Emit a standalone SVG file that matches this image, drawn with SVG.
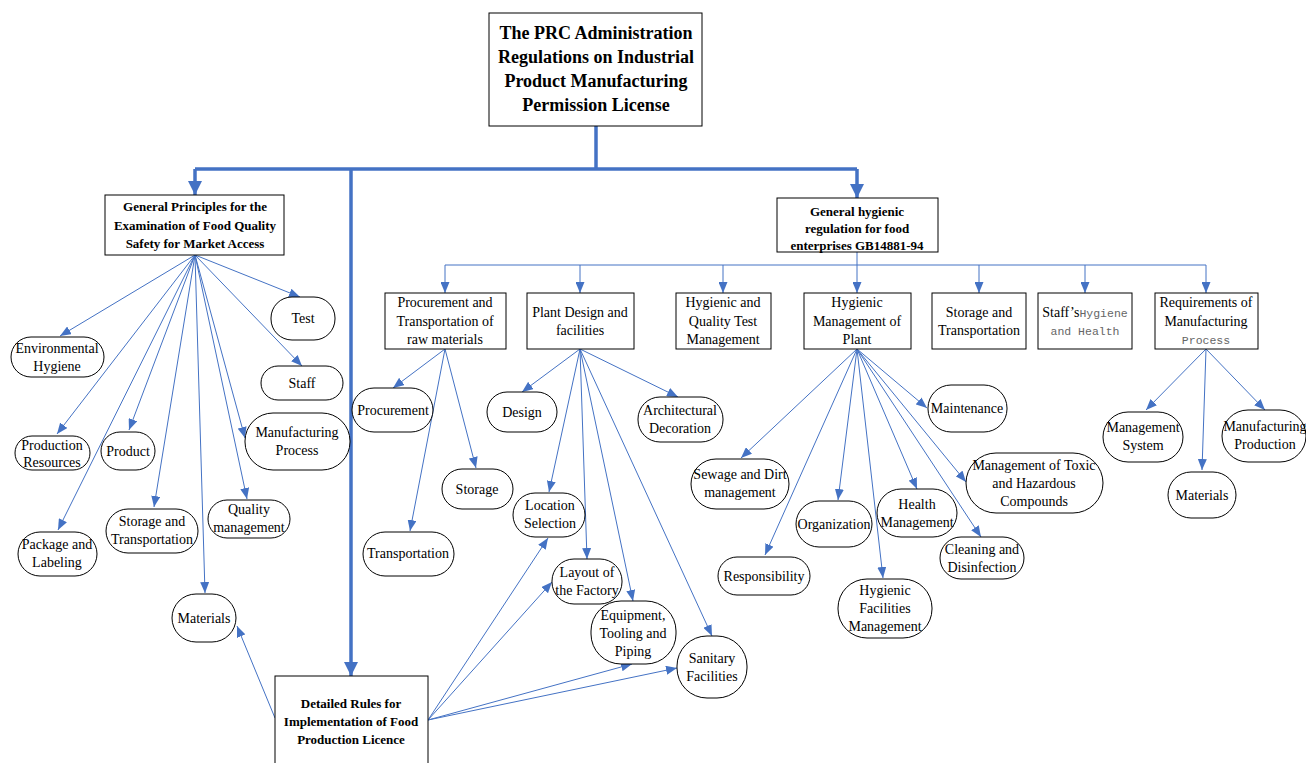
<svg xmlns="http://www.w3.org/2000/svg" width="1306" height="763" viewBox="0 0 1306 763">
<style>
.box{fill:#fff;stroke:#000;stroke-width:1}
.pill{fill:#fff;stroke:#000;stroke-width:1}
.t{font-family:"Liberation Serif","Times New Roman",serif;font-size:14px;fill:#000;text-anchor:middle}
.b{font-family:"Liberation Serif","Times New Roman",serif;font-weight:bold;font-size:13px;fill:#000;text-anchor:middle}
.bt{font-family:"Liberation Serif","Times New Roman",serif;font-weight:bold;font-size:18px;fill:#000;text-anchor:middle}
.m{font-family:"Liberation Mono","Courier New",monospace;font-size:11.5px;fill:#666}
.c{fill:none;stroke:#4472C4;stroke-width:1}
.k{fill:none;stroke:#4472C4;stroke-width:3.5}
</style>
<defs>
<marker id="a" markerUnits="userSpaceOnUse" markerWidth="11" markerHeight="9" refX="11" refY="4.5" orient="auto"><path d="M0,0 L11,4.5 L0,9 z" fill="#4472C4"/></marker>
<marker id="h" markerUnits="userSpaceOnUse" markerWidth="14" markerHeight="14" refX="14" refY="7" orient="auto"><path d="M0,0 L14,7 L0,14 z" fill="#4472C4"/></marker>
</defs>
<rect width="1306" height="763" fill="#fff"/>
<g id="connectors">
<path class="k" d="M596,126 V169"/>
<path class="k" d="M195,169 H857"/>
<path class="k" d="M195,169 V195" marker-end="url(#h)"/>
<path class="k" d="M857,169 V198" marker-end="url(#h)"/>
<path class="k" d="M351,169 V676" marker-end="url(#h)"/>
<path class="c" d="M195,255 L60,336" marker-end="url(#a)"/>
<path class="c" d="M195,255 L57,434" marker-end="url(#a)"/>
<path class="c" d="M195,255 L129,430" marker-end="url(#a)"/>
<path class="c" d="M195,255 L58,530" marker-end="url(#a)"/>
<path class="c" d="M195,255 L154,507" marker-end="url(#a)"/>
<path class="c" d="M195,255 L205,593" marker-end="url(#a)"/>
<path class="c" d="M195,255 L247,499" marker-end="url(#a)"/>
<path class="c" d="M195,255 L245,438" marker-end="url(#a)"/>
<path class="c" d="M195,255 L302,366" marker-end="url(#a)"/>
<path class="c" d="M195,255 L300,297" marker-end="url(#a)"/>
<path class="c" d="M275,718 L237,626" marker-end="url(#a)"/>
<path class="c" d="M428,720 L548,538" marker-end="url(#a)"/>
<path class="c" d="M428,720 L552,582" marker-end="url(#a)"/>
<path class="c" d="M428,720 L632,664" marker-end="url(#a)"/>
<path class="c" d="M428,720 L677,668" marker-end="url(#a)"/>
<path class="c" d="M857,252 V265"/>
<path class="c" d="M445,265 H1206"/>
<path class="c" d="M445,265 V293" marker-end="url(#a)"/>
<path class="c" d="M580,265 V293" marker-end="url(#a)"/>
<path class="c" d="M723,265 V293" marker-end="url(#a)"/>
<path class="c" d="M857,265 V293" marker-end="url(#a)"/>
<path class="c" d="M979,265 V293" marker-end="url(#a)"/>
<path class="c" d="M1085,265 V293" marker-end="url(#a)"/>
<path class="c" d="M1206,265 V293" marker-end="url(#a)"/>
<path class="c" d="M445,349 L393,388" marker-end="url(#a)"/>
<path class="c" d="M445,349 L476,468" marker-end="url(#a)"/>
<path class="c" d="M445,349 L410,531" marker-end="url(#a)"/>
<path class="c" d="M580,349 L522,392" marker-end="url(#a)"/>
<path class="c" d="M580,349 L678,397" marker-end="url(#a)"/>
<path class="c" d="M580,349 L549,492" marker-end="url(#a)"/>
<path class="c" d="M580,349 L587,559" marker-end="url(#a)"/>
<path class="c" d="M580,349 L633,601" marker-end="url(#a)"/>
<path class="c" d="M580,349 L712,636" marker-end="url(#a)"/>
<path class="c" d="M857,349 L927,408" marker-end="url(#a)"/>
<path class="c" d="M857,349 L741,458" marker-end="url(#a)"/>
<path class="c" d="M857,349 L838,500" marker-end="url(#a)"/>
<path class="c" d="M857,349 L917,489" marker-end="url(#a)"/>
<path class="c" d="M857,349 L966,482" marker-end="url(#a)"/>
<path class="c" d="M857,349 L765,555" marker-end="url(#a)"/>
<path class="c" d="M857,349 L883,578" marker-end="url(#a)"/>
<path class="c" d="M857,349 L981,537" marker-end="url(#a)"/>
<path class="c" d="M1206,349 L1146,410" marker-end="url(#a)"/>
<path class="c" d="M1206,349 L1202,470" marker-end="url(#a)"/>
<path class="c" d="M1206,349 L1265,410" marker-end="url(#a)"/>
</g>
<g id="top"><rect class="box" x="489" y="13" width="213" height="113"/>
<text class="bt" x="596" y="39">The PRC Administration</text><text class="bt" x="596" y="63">Regulations on Industrial</text><text class="bt" x="596" y="87">Product Manufacturing</text><text class="bt" x="596" y="111">Permission License</text></g>
<g id="general-principles"><rect class="box" x="105" y="195" width="179" height="60"/>
<text class="b" x="195" y="211">General Principles for the</text><text class="b" x="195" y="230">Examination of Food Quality</text><text class="b" x="195" y="248">Safety for Market Access</text></g>
<g id="general-hygienic"><rect class="box" x="777" y="198" width="161" height="54"/>
<text class="b" x="857" y="216">General hygienic</text><text class="b" x="857" y="233">regulation for food</text><text class="b" x="857" y="250">enterprises  GB14881-94</text></g>
<g id="detailed-rules"><rect class="box" x="275" y="676" width="153" height="92"/>
<text class="b" x="351" y="708">Detailed Rules for</text><text class="b" x="351" y="726">Implementation of Food</text><text class="b" x="351" y="744">Production Licence</text></g>
<g id="env-hygiene"><rect class="pill" x="11" y="337" width="93" height="40" rx="20"/><text class="t" x="57" y="353">Environmental</text><text class="t" x="57" y="371">Hygiene</text></g>
<g id="test"><rect class="pill" x="271" y="297" width="64" height="43" rx="21"/><text class="t" x="303" y="323">Test</text></g>
<g id="staff"><rect class="pill" x="261" y="366" width="82" height="34" rx="17"/><text class="t" x="302" y="388">Staff</text></g>
<g id="manufacturing-process"><rect class="pill" x="245" y="413" width="105" height="57" rx="28"/><text class="t" x="297" y="437">Manufacturing</text><text class="t" x="297" y="455">Process</text></g>
<g id="production-resources"><rect class="pill" x="15" y="436" width="75" height="34" rx="17"/><text class="t" x="52" y="450">Production</text><text class="t" x="52" y="467">Resources</text></g>
<g id="product"><rect class="pill" x="101" y="432" width="54" height="38" rx="19"/><text class="t" x="128" y="456">Product</text></g>
<g id="package-labeling"><rect class="pill" x="18" y="532" width="79" height="44" rx="22"/><text class="t" x="57" y="549">Package and</text><text class="t" x="57" y="567">Labeling</text></g>
<g id="storage-transport-l"><rect class="pill" x="106" y="509" width="92" height="44" rx="22"/><text class="t" x="152" y="526">Storage and</text><text class="t" x="152" y="544">Transportation</text></g>
<g id="quality-management"><rect class="pill" x="208" y="500" width="82" height="38" rx="19"/><text class="t" x="249" y="514">Quality</text><text class="t" x="249" y="532">management</text></g>
<g id="materials-l"><rect class="pill" x="172" y="594" width="64" height="48" rx="24"/><text class="t" x="204" y="623">Materials</text></g>
<g id="procurement-box"><rect class="box" x="385" y="293" width="121" height="56"/><text class="t" x="445" y="307">Procurement and</text><text class="t" x="445" y="326">Transportation of</text><text class="t" x="445" y="344">raw materials</text></g>
<g id="plant-design"><rect class="box" x="527" y="293" width="107" height="56"/><text class="t" x="580" y="317">Plant Design and</text><text class="t" x="580" y="335">facilities</text></g>
<g id="hygienic-quality"><rect class="box" x="676" y="293" width="95" height="56"/><text class="t" x="723" y="307">Hygienic and</text><text class="t" x="723" y="326">Quality Test</text><text class="t" x="723" y="344">Management</text></g>
<g id="hygienic-plant"><rect class="box" x="804" y="293" width="107" height="56"/><text class="t" x="857" y="307">Hygienic</text><text class="t" x="857" y="326">Management of</text><text class="t" x="857" y="344">Plant</text></g>
<g id="storage-transport-r"><rect class="box" x="932" y="293" width="94" height="56"/><text class="t" x="979" y="317">Storage and</text><text class="t" x="979" y="335">Transportation</text></g>
<g id="staff-hygiene"><rect class="box" x="1038" y="293" width="94" height="56"/><text class="t" x="1085" y="317">Staff’s<tspan class="m">Hygiene</tspan></text><text class="t" x="1085" y="335"><tspan class="m">and Health</tspan></text></g>
<g id="requirements"><rect class="box" x="1155" y="293" width="103" height="56"/><text class="t" x="1206" y="307">Requirements of</text><text class="t" x="1206" y="326">Manufacturing</text><text class="t" x="1206" y="344"><tspan class="m">Process</tspan></text></g>
<g id="procurement"><rect class="pill" x="352" y="388" width="81" height="44" rx="22"/><text class="t" x="393" y="415">Procurement</text></g>
<g id="storage"><rect class="pill" x="442" y="469" width="71" height="40" rx="20"/><text class="t" x="477" y="494">Storage</text></g>
<g id="transportation"><rect class="pill" x="363" y="532" width="91" height="44" rx="22"/><text class="t" x="408" y="558">Transportation</text></g>
<g id="design"><rect class="pill" x="487" y="392" width="70" height="40" rx="20"/><text class="t" x="522" y="417">Design</text></g>
<g id="architectural"><rect class="pill" x="638" y="397" width="85" height="45" rx="22"/><text class="t" x="680" y="415">Architectural</text><text class="t" x="680" y="433">Decoration</text></g>
<g id="location"><rect class="pill" x="513" y="493" width="72" height="44" rx="22"/><text class="t" x="550" y="510">Location</text><text class="t" x="550" y="528">Selection</text></g>
<g id="layout"><rect class="pill" x="552" y="559" width="70" height="45" rx="22"/><text class="t" x="587" y="577">Layout of</text><text class="t" x="587" y="595">the Factory</text></g>
<g id="equipment"><rect class="pill" x="591" y="601" width="85" height="63" rx="30"/><text class="t" x="633" y="620">Equipment,</text><text class="t" x="633" y="638">Tooling and</text><text class="t" x="633" y="656">Piping</text></g>
<g id="sanitary"><rect class="pill" x="677" y="636" width="70" height="62" rx="30"/><text class="t" x="712" y="663">Sanitary</text><text class="t" x="712" y="681">Facilities</text></g>
<g id="maintenance"><rect class="pill" x="928" y="385" width="79" height="47" rx="23"/><text class="t" x="967" y="413">Maintenance</text></g>
<g id="sewage"><rect class="pill" x="691" y="459" width="98" height="50" rx="25"/><text class="t" x="740" y="479">Sewage and Dirt</text><text class="t" x="740" y="497">management</text></g>
<g id="organization"><rect class="pill" x="796" y="501" width="76" height="46" rx="23"/><text class="t" x="834" y="529">Organization</text></g>
<g id="health"><rect class="pill" x="877" y="489" width="80" height="48" rx="24"/><text class="t" x="917" y="509">Health</text><text class="t" x="917" y="527">Management</text></g>
<g id="toxic"><rect class="pill" x="966" y="453" width="137" height="60" rx="30"/><text class="t" x="1034" y="470">Management of Toxic</text><text class="t" x="1034" y="488">and Hazardous</text><text class="t" x="1034" y="506">Compounds</text></g>
<g id="responsibility"><rect class="pill" x="718" y="557" width="92" height="38" rx="19"/><text class="t" x="764" y="581">Responsibility</text></g>
<g id="hygienic-facilities"><rect class="pill" x="838" y="579" width="94" height="59" rx="29"/><text class="t" x="885" y="595">Hygienic</text><text class="t" x="885" y="613">Facilities</text><text class="t" x="885" y="631">Management</text></g>
<g id="cleaning"><rect class="pill" x="940" y="537" width="84" height="42" rx="21"/><text class="t" x="982" y="554">Cleaning and</text><text class="t" x="982" y="572">Disinfection</text></g>
<g id="management-system"><rect class="pill" x="1103" y="412" width="80" height="50" rx="25"/><text class="t" x="1143" y="432">Management</text><text class="t" x="1143" y="450">System</text></g>
<g id="materials-r"><rect class="pill" x="1168" y="472" width="68" height="46" rx="23"/><text class="t" x="1202" y="500">Materials</text></g>
<g id="manufacturing-production"><rect class="pill" x="1222" y="410" width="84" height="52" rx="26"/><text class="t" x="1265" y="431">Manufacturing</text><text class="t" x="1265" y="449">Production</text></g>
</svg>
